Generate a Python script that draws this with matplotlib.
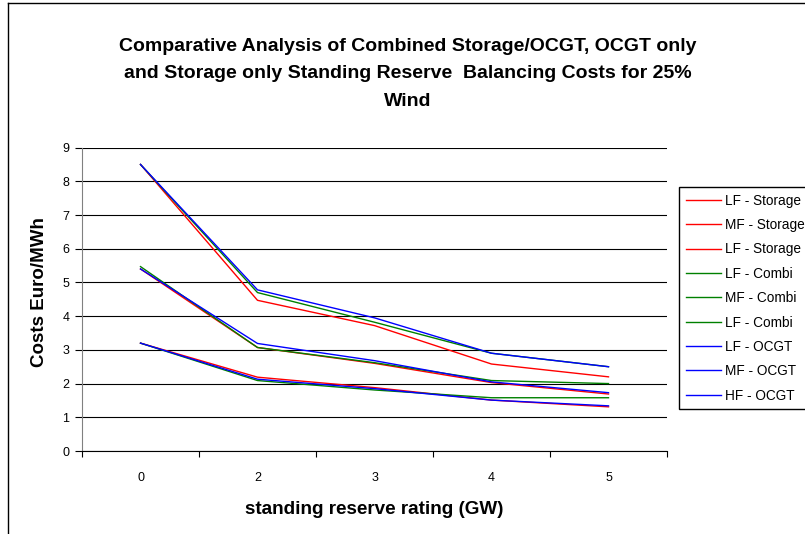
import numpy as np
import matplotlib
matplotlib.use("Agg")
import matplotlib.pyplot as plt
from matplotlib.lines import Line2D

plt.rcParams["font.family"] = ["Liberation Sans", "DejaVu Sans"]

# ── Data: balancing cost (Euro/MWh) vs standing reserve rating ──
ratings = ["0", "2", "3", "4", "5"]

lf_storage = [3.20, 2.19, 1.88, 1.51, 1.31]
mf_storage = [5.40, 3.07, 2.60, 2.03, 1.69]
hf_storage = [8.50, 4.47, 3.72, 2.58, 2.20]

lf_combi = [3.20, 2.09, 1.81, 1.58, 1.58]
mf_combi = [5.47, 3.07, 2.62, 2.09, 2.00]
hf_combi = [8.50, 4.70, 3.82, 2.90, 2.50]

lf_ocgt = [3.20, 2.13, 1.85, 1.51, 1.34]
mf_ocgt = [5.40, 3.19, 2.68, 2.05, 1.73]
hf_ocgt = [8.50, 4.78, 3.95, 2.90, 2.50]

series = [
    ("LF - Storage", lf_storage, "#FF0000"),
    ("MF - Storage", mf_storage, "#FF0000"),
    ("LF - Storage", hf_storage, "#FF0000"),
    ("LF - Combi", lf_combi, "#008000"),
    ("MF - Combi", mf_combi, "#008000"),
    ("LF - Combi", hf_combi, "#008000"),
    ("LF - OCGT", lf_ocgt, "#0000FF"),
    ("MF - OCGT", mf_ocgt, "#0000FF"),
    ("HF - OCGT", hf_ocgt, "#0000FF"),
]

W, H = 805, 534
fig = plt.figure(figsize=(W / 100, H / 100), dpi=100)
fig.patch.set_facecolor("white")

# outer chart frame (right/bottom run off the canvas)
fig.add_artist(Line2D([8 / W, 8 / W], [0, 1 - 3 / H], color="black", lw=1.0,
                      transform=fig.transFigure))
fig.add_artist(Line2D([8 / W, 1], [1 - 3 / H, 1 - 3 / H], color="black", lw=1.0,
                      transform=fig.transFigure))

left, right, top, bottom = 82, 667, 147.6, 451
ax = fig.add_axes([left / W, (H - bottom) / H, (right - left) / W, (bottom - top) / H])

x = np.arange(len(ratings))
for label, vals, color in series:
    ax.plot(x, vals, color=color, lw=1.0, label=label)

ax.set_xlim(-0.5, len(ratings) - 0.5)
ax.set_ylim(0, 9)
ax.set_yticks(range(10))
ax.yaxis.grid(True, color="black", lw=0.8)
ax.set_axisbelow(True)

ax.set_xticks(np.arange(-0.5, len(ratings), 1.0))
ax.set_xticklabels([])
ax.set_xticks(x, minor=True)
ax.set_xticklabels(ratings, minor=True)
ax.tick_params(axis="x", which="major", length=4, width=0.8, direction="out")
ax.tick_params(axis="x", which="minor", length=0, pad=15, labelsize=9)
ax.tick_params(axis="y", length=5, width=0.8, labelsize=9, pad=4)

for side in ("top", "right"):
    ax.spines[side].set_visible(False)
ax.spines["left"].set_color("#808080")
ax.spines["bottom"].set_color("black")

fig.text(40 / W, 1 - 292 / H, "Costs Euro/MWh", rotation=90,
         ha="center", va="center", fontsize=13.5, fontweight="bold")
fig.text(374 / W, 1 - 509 / H, "standing reserve rating (GW)",
         ha="center", va="center", fontsize=13.6, fontweight="bold")

fig.text(408 / W, 1 - 74 / H,
         "Comparative Analysis of Combined Storage/OCGT, OCGT only\n"
         "and Storage only Standing Reserve  Balancing Costs for 25%\n"
         "Wind",
         ha="center", va="center", fontsize=14, fontweight="bold", linespacing=1.8)

fig.legend(loc="upper left", bbox_to_anchor=(679 / W, 1 - 187 / H),
           fontsize=9.8, frameon=True, fancybox=False, edgecolor="black",
           framealpha=1, handlelength=2.55, handletextpad=0.3,
           labelspacing=0.76, borderaxespad=0, borderpad=0.5)

plt.savefig("out.png", dpi=100)
